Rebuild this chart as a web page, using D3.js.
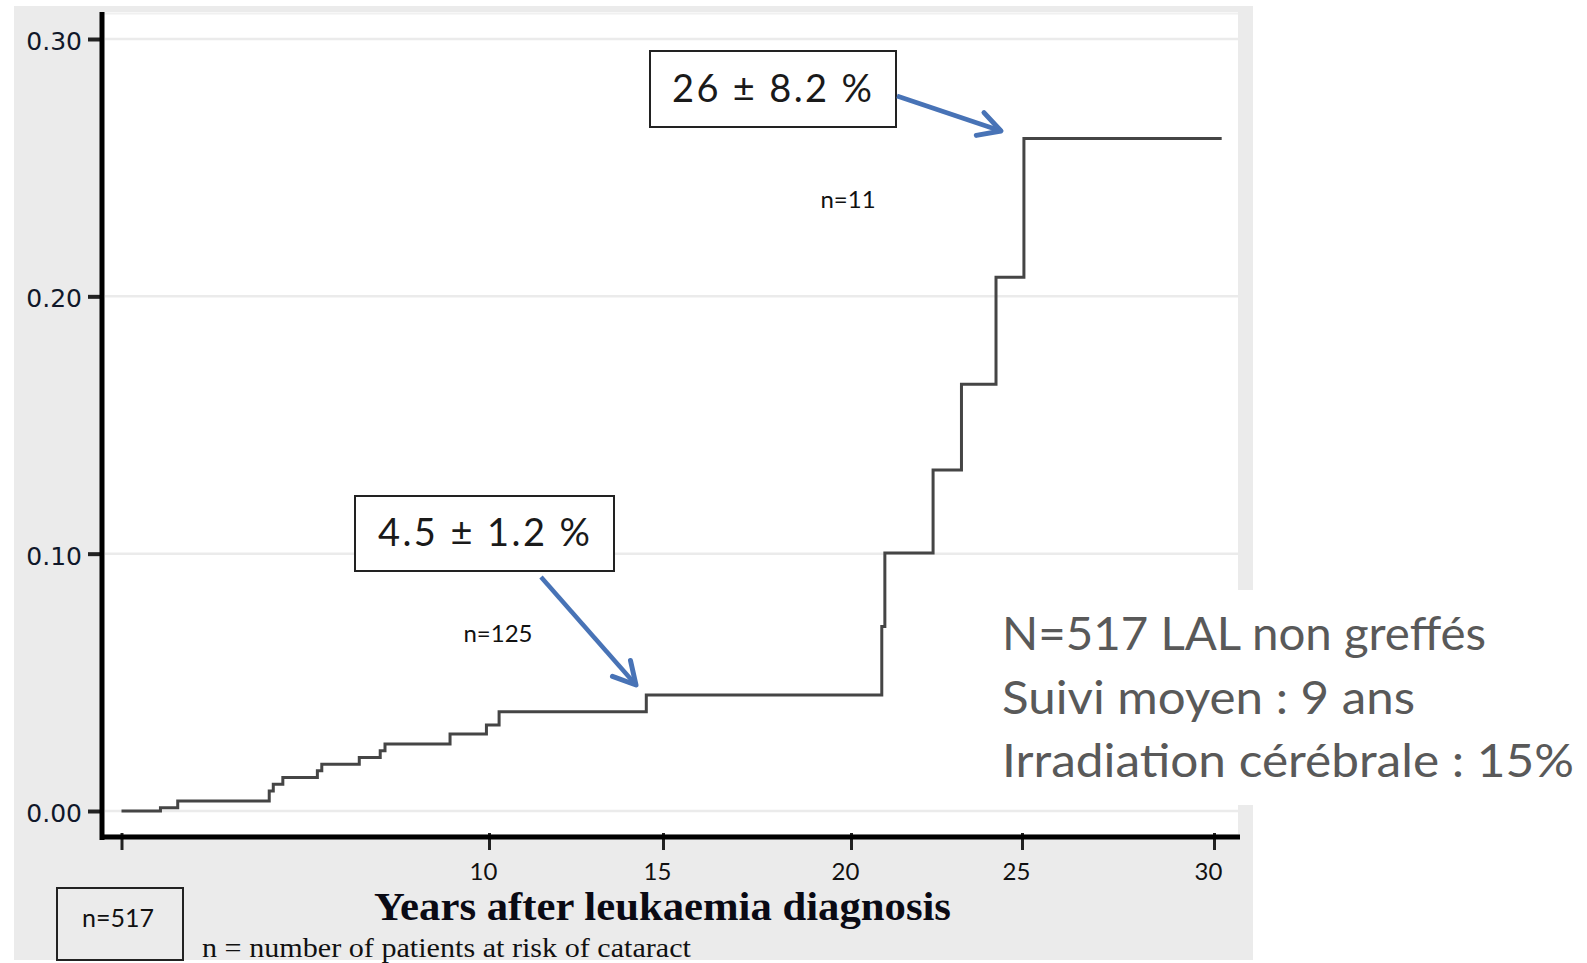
<!DOCTYPE html>
<meta charset="utf-8">
<body style="margin:0;background:#fff"></body>
<script src="https://d3js.org/d3.v7.min.js"></script>
<script>
  // cumulative incidence of cataract, step curve (years after diagnosis, value after the step)
  const years = [0, 1.06, 1.53, 4.02, 4.13, 4.39, 5.33, 5.45, 6.47, 7.04, 7.17, 8.94, 9.93, 10.29, 14.52, 20.90, 20.99, 22.40, 23.23, 24.24, 25.05, 30.2]
  const incidence = [0, 0.0013, 0.0039, 0.0078, 0.0104, 0.0130, 0.0156, 0.0182, 0.0208, 0.0234, 0.0260, 0.0299, 0.0334, 0.0386, 0.0451, 0.0717, 0.1003, 0.1325, 0.1658, 0.2074, 0.2613, 0.2613]

  const xTicks = [0, 10, 15, 20, 25, 30]
  const yTicks = [0, 0.1, 0.2, 0.3]

  const estimates = ['4.5 \u00b1 1.2 %', '26 \u00b1 8.2 %']
  const atRisk = ['n=125', 'n=11']
  const notes = ['N=517 LAL non greff\u00e9s', 'Suivi moyen : 9 ans', 'Irradiation c\u00e9r\u00e9brale : 15%']

  const data = years.map((t, i) => ({ t, v: incidence[i] }))

  const W = 1587
  const H = 963

  const svg = d3.select('body')
    .append('svg')
    .attr('width', W)
    .attr('height', H)
    .style('display', 'block')

  // scales (the original axis is not evenly spaced, so map each tick)
  const x = d3.scaleLinear().domain(xTicks).range([121.5, 489, 663, 851, 1022, 1214])
  const y = d3.scaleLinear().domain([0, 0.3]).range([811, 39])

  // backgrounds
  svg.append('rect').attr('x', 14).attr('y', 6).attr('width', 1239).attr('height', 954).attr('fill', '#ebebeb')
  svg.append('rect').attr('x', 104).attr('y', 12).attr('width', 1134).attr('height', 822).attr('fill', '#fff')
  svg.append('line').attr('x1', 104).attr('x2', 1238).attr('y1', 13.5).attr('y2', 13.5)
    .attr('stroke', '#f0f0f0').attr('stroke-width', 2)

  // grid lines
  svg.append('g')
    .selectAll('line')
    .data(yTicks)
    .enter().append('line')
    .attr('x1', 105)
    .attr('x2', 1238)
    .attr('y1', d => y(d))
    .attr('y2', d => y(d))
    .attr('stroke', '#ebebeb')
    .attr('stroke-width', 2.5)

  // y axis
  const yAxis = d3.axisLeft(y)
    .tickValues(yTicks)
    .tickFormat(d3.format('.2f'))
    .tickSize(14)
    .tickPadding(6)
  const gy = svg.append('g')
    .attr('transform', 'translate(102,0)')
    .call(yAxis)
  gy.select('.domain').remove()
  gy.selectAll('.tick line').attr('stroke', '#222').attr('stroke-width', 4)
  gy.selectAll('.tick text')
    .attr('font-family', 'DejaVu Sans')
    .attr('font-size', 25)
    .attr('fill', '#10182a')
    .attr('dy', '0.42em')

  // x axis
  const xAxis = d3.axisBottom(x)
    .tickValues(xTicks)
    .tickFormat(d => d === 0 ? '' : d)
    .tickSize(13)
  const gx = svg.append('g')
    .attr('transform', 'translate(0,837)')
    .call(xAxis)
  gx.select('.domain').remove()
  gx.selectAll('.tick line').attr('stroke', '#222').attr('stroke-width', 3).attr('y1', -4)
  gx.selectAll('.tick text')
    .attr('font-family', 'Lato')
    .attr('font-size', 24)
    .attr('fill', '#111')
    .attr('x', -6)
    .attr('y', 43)
    .attr('dy', 0)

  // axis lines
  svg.append('line').attr('x1', 102).attr('x2', 102).attr('y1', 12).attr('y2', 840)
    .attr('stroke', '#000').attr('stroke-width', 5)
  svg.append('line').attr('x1', 100).attr('x2', 1240).attr('y1', 837).attr('y2', 837)
    .attr('stroke', '#000').attr('stroke-width', 5)

  // step curve
  const line = d3.line()
    .x(d => x(d.t))
    .y(d => y(d.v))
    .curve(d3.curveStepAfter)
  svg.append('path')
    .datum(data)
    .attr('d', line)
    .attr('fill', 'none')
    .attr('stroke', '#454545')
    .attr('stroke-width', 3)

  // axis titles
  svg.append('text')
    .attr('x', 374).attr('y', 920)
    .attr('font-family', 'Liberation Serif')
    .attr('font-weight', 'bold')
    .attr('font-size', 40)
    .attr('fill', '#0a0a14')
    .attr('textLength', 577)
    .attr('lengthAdjust', 'spacingAndGlyphs')
    .text('Years after leukaemia  diagnosis')
  svg.append('text')
    .attr('x', 202).attr('y', 957)
    .attr('font-family', 'Liberation Serif')
    .attr('font-size', 28)
    .attr('fill', '#111')
    .attr('textLength', 489)
    .attr('lengthAdjust', 'spacingAndGlyphs')
    .text('n = number of patients at risk of cataract')

  // n=517 box
  svg.append('rect').attr('x', 57).attr('y', 888).attr('width', 126).attr('height', 72)
    .attr('fill', 'none').attr('stroke', '#222').attr('stroke-width', 2)
  svg.append('text')
    .attr('x', 118).attr('y', 927)
    .attr('text-anchor', 'middle')
    .attr('font-family', 'Lato')
    .attr('font-size', 25)
    .attr('fill', '#111')
    .text('n=517')

  // arrow marker
  svg.append('defs').append('marker')
    .attr('id', 'head')
    .attr('markerUnits', 'userSpaceOnUse')
    .attr('viewBox', '-30 -16 34 32')
    .attr('markerWidth', 34)
    .attr('markerHeight', 32)
    .attr('refX', 0)
    .attr('refY', 0)
    .attr('orient', 'auto')
    .append('path')
    .attr('d', 'M-22,-12L0,0L-22,12')
    .attr('fill', 'none')
    .attr('stroke', '#4873b6')
    .attr('stroke-width', 5)
    .attr('stroke-linecap', 'round')
    .attr('stroke-linejoin', 'round')

  // estimate boxes with arrows
  const boxes = [
    { x: 355, y: 496, w: 259, h: 75, tx: 484, ty: 546, len: 212, a: [541, 577, 636, 685] },
    { x: 650, y: 51, w: 246, h: 76, tx: 772, ty: 102, len: 200, a: [897, 96, 1001, 131] }
  ]
  boxes.forEach((b, i) => {
    svg.append('rect').attr('x', b.x).attr('y', b.y).attr('width', b.w).attr('height', b.h)
      .attr('fill', '#fff').attr('stroke', '#222').attr('stroke-width', 2)
    svg.append('text')
      .attr('x', b.tx).attr('y', b.ty)
      .attr('text-anchor', 'middle')
      .attr('font-family', 'Lato')
      .attr('font-size', 38)
      .attr('fill', '#1a1a1a')
      .attr('textLength', b.len)
      .attr('lengthAdjust', 'spacing')
      .text(estimates[i])
    svg.append('line')
      .attr('x1', b.a[0]).attr('y1', b.a[1]).attr('x2', b.a[2]).attr('y2', b.a[3])
      .attr('stroke', '#4873b6').attr('stroke-width', 4.5)
      .attr('marker-end', 'url(#head)')
  })

  // numbers at risk
  const riskPos = [[498, 642], [848, 208]]
  atRisk.forEach((s, i) => {
    svg.append('text')
      .attr('x', riskPos[i][0]).attr('y', riskPos[i][1])
      .attr('text-anchor', 'middle')
      .attr('font-family', 'Lato')
      .attr('font-size', 24)
      .attr('fill', '#111')
      .text(s)
  })

  // side notes
  svg.append('rect').attr('x', 988).attr('y', 590).attr('width', 599).attr('height', 215).attr('fill', '#fff')
  const noteLen = [484, 413, 572]
  svg.append('g')
    .selectAll('text')
    .data(notes)
    .enter().append('text')
    .attr('x', 1002)
    .attr('y', (d, i) => 650 + i * 63.5)
    .attr('font-family', 'Lato')
    .attr('font-size', 46)
    .attr('fill', '#595959')
    .attr('textLength', (d, i) => noteLen[i])
    .attr('lengthAdjust', 'spacingAndGlyphs')
    .text(d => d)
</script>
